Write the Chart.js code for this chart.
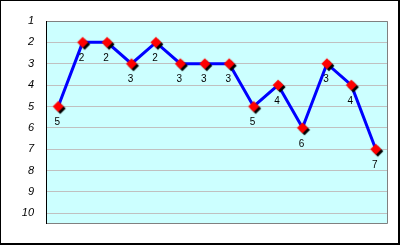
<!DOCTYPE html>
<html>
<head>
<meta charset="utf-8">
<script src="https://cdn.jsdelivr.net/npm/chart.js@4"></script>
<style>
  html, body { margin: 0; padding: 0; background: #fff; }
  #wrap { width: 400px; height: 245px; }
</style>
</head>
<body>
<div id="wrap"><canvas id="chart" width="400" height="245"></canvas></div>
<script>
const categories = ['1', '2', '3', '4', '5', '6', '7', '8', '9', '10', '11', '12', '13', '14'];
const ranks = [5, 2, 2, 3, 2, 3, 3, 3, 5, 4, 6, 3, 4, 7];
const yTicks = [1, 2, 3, 4, 5, 6, 7, 8, 9, 10];

// red diamond with a black "shadow" edge
const marker = document.createElement('canvas');
marker.width = 18;
marker.height = 18;
(function () {
  const c = marker.getContext('2d');
  const diamond = (cx, cy, r, col) => {
    c.beginPath();
    c.moveTo(cx, cy - r);
    c.lineTo(cx + r, cy);
    c.lineTo(cx, cy + r);
    c.lineTo(cx - r, cy);
    c.closePath();
    c.fillStyle = col;
    c.fill();
  };
  diamond(11, 11, 5.5, '#000000');
  diamond(9, 9, 5.5, '#ff0000');
})();

const frame = {
  id: 'frame',
  beforeDraw(chart) {
    const { ctx, chartArea: a } = chart;
    ctx.save();
    ctx.fillStyle = '#ccffff';
    ctx.fillRect(a.left, a.top, a.right - a.left, a.bottom - a.top);
    ctx.restore();
  },
  afterDraw(chart) {
    const { ctx, chartArea: a } = chart;
    ctx.save();
    ctx.lineWidth = 1;
    ctx.strokeStyle = '#808080';
    ctx.beginPath();
    ctx.moveTo(a.left, a.top + 0.5);
    ctx.lineTo(a.right - 0.5, a.top + 0.5);
    ctx.lineTo(a.right - 0.5, a.bottom - 0.5);
    ctx.lineTo(a.left, a.bottom - 0.5);
    ctx.stroke();
    ctx.strokeStyle = '#000000';
    ctx.beginPath();
    ctx.moveTo(a.left + 0.5, a.top);
    ctx.lineTo(a.left + 0.5, a.bottom);
    ctx.stroke();
    // outer chart border
    ctx.strokeRect(0.5, 0.5, 398, 243);
    ctx.beginPath();
    ctx.moveTo(399.5, 0);
    ctx.lineTo(399.5, 245);
    ctx.moveTo(0, 244.5);
    ctx.lineTo(400, 244.5);
    ctx.stroke();
    ctx.restore();
  },
  afterDatasetsDraw(chart) {
    const { ctx } = chart;
    const meta = chart.getDatasetMeta(0);
    ctx.save();
    ctx.fillStyle = '#000000';
    ctx.font = '10px "Liberation Sans", Arial, sans-serif';
    ctx.textAlign = 'center';
    ctx.textBaseline = 'middle';
    meta.data.forEach((pt, i) => {
      ctx.fillText(String(ranks[i]), pt.x - 1, pt.y + 16);
    });
    ctx.restore();
  }
};

new Chart(document.getElementById('chart'), {
  type: 'line',
  data: {
    labels: categories,
    datasets: [{
      data: ranks,
      borderColor: '#0000ff',
      borderWidth: 3,
      tension: 0,
      pointStyle: marker,
      pointRadius: 6,
      pointHoverRadius: 6
    }]
  },
  options: {
    responsive: false,
    animation: false,
    events: [],
    layout: { padding: { left: 0, top: 21, right: 12, bottom: 21 } },
    plugins: { legend: { display: false }, tooltip: { enabled: false } },
    scales: {
      x: {
        display: false,
        offset: true
      },
      y: {
        reverse: true,
        min: 1,
        max: 10.5,
        afterBuildTicks(scale) {
          scale.ticks = yTicks.map(v => ({ value: v }));
        },
        afterFit(scale) {
          scale.width = 46;
        },
        grid: { color: '#c0c0c0', drawTicks: false, lineWidth: 1 },
        border: { display: false },
        ticks: {
          padding: 12,
          color: '#000000',
          font: { family: '"Liberation Sans", Arial, sans-serif', size: 11, style: 'italic' }
        }
      }
    }
  },
  plugins: [frame]
});
</script>
</body>
</html>
